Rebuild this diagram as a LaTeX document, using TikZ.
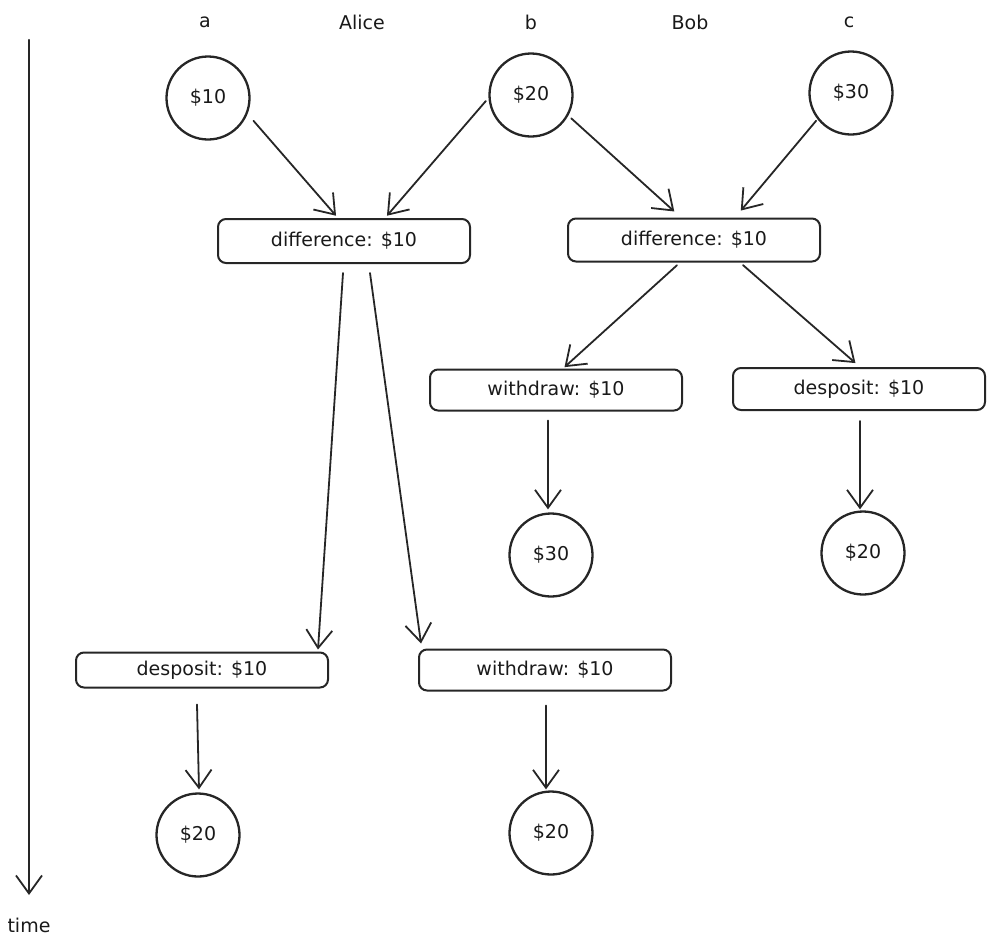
\documentclass[tikz,border=0pt]{standalone}
\usepackage{fontspec}
\setmainfont{DejaVu Sans}
\usetikzlibrary{arrows.meta}
\begin{document}
\begin{tikzpicture}[x=1pt,y=-1pt,
  every node/.style={font=\fontsize{19}{22}\selectfont, text=black!90},
  coin/.style={circle, draw=black!85, line width=2.3pt, minimum size=83pt, inner sep=0pt},
  opbox/.style={rectangle, rounded corners=8pt, draw=black!85, line width=2pt, minimum width=252pt, inner sep=0pt},
  lbl/.style={inner sep=0pt},
  arr/.style={draw=black!85, line width=1.8pt, line cap=round, -{Straight Barb[length=18pt,width=26pt,line width=1.8pt]}}
]
\useasboundingbox (0,0) rectangle (996,946);
% column labels
\node[lbl] (la) at (205,22) {a};
\node[lbl] (lalice) at (362,22) {Alice};
\node[lbl] (lb) at (531,22) {b};
\node[lbl] (lbob) at (690,22) {Bob};
\node[lbl] (lc) at (849,22) {c};
% time axis
\coordinate (t0) at (29,40);
\coordinate (t1) at (29,895);
\draw[arr, line width=2.4pt] (t0) -- (t1);
\node[lbl] (ltime) at (29,925) {time};
% circles
\node[coin] (ca) at (208,98) {\$10};
\node[coin] (cb) at (531,95) {\$20};
\node[coin] (cc) at (851,93) {\$30};
\node[coin] (cw1) at (551,555) {\$30};
\node[coin] (cp1) at (863,553) {\$20};
\node[coin] (cp2) at (198,835) {\$20};
\node[coin] (cw2) at (551,833) {\$20};
% boxes
\node[opbox, minimum height=44pt] (d1) at (344,241) {difference: \$10};
\node[opbox, minimum height=43pt] (d2) at (694,240) {difference: \$10};
\node[opbox, minimum height=41pt] (w1) at (556,390) {withdraw: \$10};
\node[opbox, minimum height=42pt] (p1) at (859,389) {desposit: \$10};
\node[opbox, minimum height=35pt] (p2) at (202,670) {desposit: \$10};
\node[opbox, minimum height=41pt] (w2) at (545,670) {withdraw: \$10};
% arrows
\draw[arr, shorten <=9pt, shorten >=3pt] (ca.-22) -- ([xshift=-6pt]d1.north);
\draw[arr, shorten <=4pt, shorten >=3pt] (cb.184) -- ([xshift=41pt]d1.north);
\draw[arr, shorten <=4pt, shorten >=9pt] (cb.-29) -- ([xshift=-13pt]d2.north);
\draw[arr, shorten <=2pt, shorten >=9pt] (cc.-142) -- ([xshift=41pt]d2.north);
\draw[arr, shorten <=4pt, shorten >=2pt] ([xshift=-14pt]d2.south) -- ([xshift=7pt]w1.north);
\draw[arr, shorten <=4pt, shorten >=6pt] ([xshift=46pt]d2.south) -- ([xshift=1pt]p1.north);
\draw[arr] ([xshift=-8pt,yshift=-9pt]w1.south) -- ([xshift=-3pt,yshift=3pt]cw1.north);
\draw[arr] ([xshift=1pt,yshift=-10pt]p1.south) -- ([xshift=-3pt,yshift=1pt]cp1.north);
\draw[arr] ([xshift=-1pt,yshift=-9pt]d1.south) -- ([xshift=116pt,yshift=2pt]p2.north);
\draw[arr] ([xshift=26pt,yshift=-9pt]d1.south) -- ([xshift=-124pt,yshift=5pt]w2.north);
\draw[arr] ([xshift=-5pt,yshift=-16pt]p2.south) -- ([xshift=1pt,yshift=3pt]cp2.north);
\draw[arr] ([xshift=1pt,yshift=-14pt]w2.south) -- ([xshift=-5pt,yshift=1pt]cw2.north);
\end{tikzpicture}
\end{document}
